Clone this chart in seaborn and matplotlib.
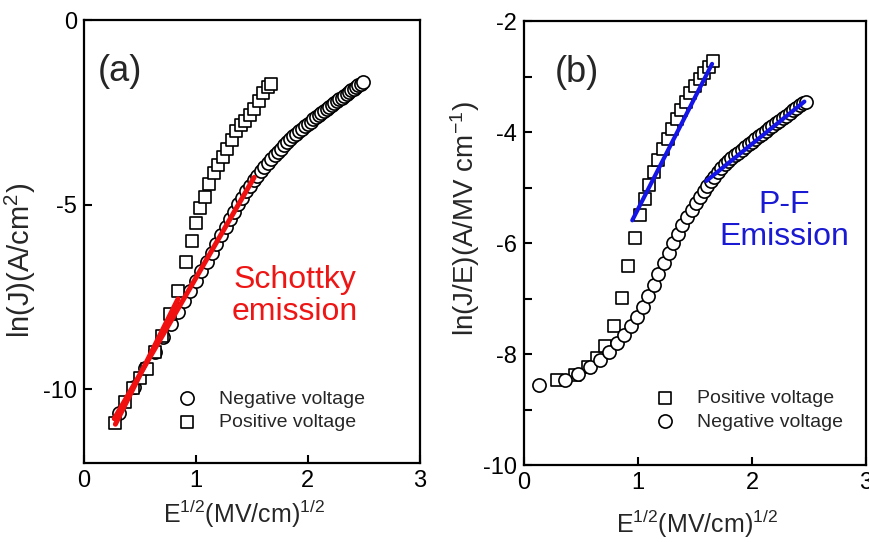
import numpy as np
import pandas as pd
import matplotlib
matplotlib.use('Agg')
import matplotlib.pyplot as plt
import seaborn as sns

# (a) Schottky plot: ln(J) vs E^1/2
a_neg_x = [0.316, 0.447, 0.548, 0.632, 0.707, 0.775, 0.837, 0.894, 0.949, 1.0,
           1.049, 1.095, 1.140, 1.183, 1.225, 1.265, 1.304, 1.342, 1.378, 1.414,
           1.449, 1.483, 1.517, 1.549, 1.581, 1.612, 1.643, 1.673, 1.703, 1.732,
           1.761, 1.789, 1.817, 1.844, 1.871, 1.897, 1.924, 1.949, 1.975, 2.0,
           2.025, 2.049, 2.074, 2.098, 2.121, 2.145, 2.168, 2.191, 2.214, 2.236,
           2.258, 2.280, 2.302, 2.324, 2.345, 2.366, 2.387, 2.408, 2.429, 2.449,
           2.470, 2.490]
a_neg_y = [-10.65, -9.95, -9.42, -8.98, -8.59, -8.23, -7.91, -7.61, -7.33, -7.06,
           -6.80, -6.55, -6.30, -6.06, -5.83, -5.61, -5.40, -5.19, -4.99, -4.81,
           -4.64, -4.49, -4.34, -4.21, -4.08, -3.97, -3.86, -3.76, -3.66, -3.57,
           -3.48, -3.39, -3.31, -3.23, -3.15, -3.08, -3.01, -2.94, -2.87, -2.81,
           -2.75, -2.69, -2.63, -2.57, -2.51, -2.46, -2.40, -2.35, -2.30, -2.25,
           -2.20, -2.15, -2.10, -2.05, -2.00, -1.95, -1.90, -1.86, -1.81, -1.77,
           -1.72, -1.68]
a_pos_x = [0.28, 0.37, 0.44, 0.50, 0.56, 0.63, 0.70, 0.77, 0.84, 0.91,
           0.96, 1.00, 1.04, 1.08, 1.12, 1.16, 1.20, 1.24, 1.28, 1.32,
           1.36, 1.40, 1.44, 1.48, 1.52, 1.56, 1.60, 1.64, 1.67]
a_pos_y = [-10.92, -10.35, -9.97, -9.70, -9.46, -9.00, -8.56, -7.97, -7.34, -6.55,
           -5.98, -5.49, -5.10, -4.80, -4.45, -4.15, -3.92, -3.70, -3.50, -3.25,
           -3.00, -2.85, -2.72, -2.58, -2.40, -2.20, -1.97, -1.82, -1.72]
a_fit_neg_x = [0.27, 1.52]
a_fit_neg_y = [-10.8, -4.26]
a_fit_pos_x = [0.28, 0.84]
a_fit_pos_y = [-10.95, -7.55]

# (b) Poole-Frenkel plot: ln(J/E) vs E^1/2
b_neg_x = [0.13, 0.36, 0.47, 0.58, 0.67, 0.75, 0.82, 0.88, 0.94, 0.99,
           1.04, 1.09, 1.14, 1.18, 1.23, 1.27, 1.31, 1.35, 1.39, 1.43,
           1.47, 1.51, 1.54, 1.58, 1.61, 1.64, 1.67, 1.70, 1.73, 1.76,
           1.79, 1.82, 1.85, 1.88, 1.91, 1.94, 1.97, 2.00, 2.03, 2.06,
           2.09, 2.12, 2.15, 2.18, 2.21, 2.24, 2.27, 2.30, 2.33, 2.36,
           2.39, 2.42, 2.45, 2.47]
b_neg_y = [-8.55, -8.47, -8.36, -8.24, -8.10, -7.96, -7.80, -7.65, -7.50, -7.33,
           -7.15, -6.96, -6.76, -6.56, -6.36, -6.17, -6.00, -5.83, -5.68, -5.53,
           -5.40, -5.28, -5.17, -5.06, -4.97, -4.89, -4.80, -4.72, -4.65, -4.58,
           -4.52, -4.47, -4.42, -4.37, -4.32, -4.27, -4.22, -4.17, -4.12, -4.07,
           -4.03, -3.98, -3.93, -3.89, -3.84, -3.80, -3.75, -3.71, -3.66, -3.61,
           -3.57, -3.52, -3.48, -3.45]
b_pos_x = [0.29, 0.45, 0.56, 0.64, 0.71, 0.79, 0.86, 0.91, 0.97, 1.02,
           1.06, 1.10, 1.14, 1.18, 1.22, 1.26, 1.30, 1.34, 1.38, 1.42,
           1.46, 1.50, 1.54, 1.58, 1.62, 1.66]
b_pos_y = [-8.47, -8.38, -8.23, -8.07, -7.85, -7.50, -6.99, -6.42, -5.90, -5.50,
           -5.20, -4.95, -4.72, -4.50, -4.30, -4.12, -3.94, -3.77, -3.60, -3.45,
           -3.30, -3.17, -3.05, -2.93, -2.82, -2.72]
b_fit_pos_x = [0.95, 1.65]
b_fit_pos_y = [-5.59, -2.77]
b_fit_neg_x = [1.60, 2.46]
b_fit_neg_y = [-4.88, -3.45]

sns.set_theme(style='ticks')
plt.rcParams['font.family'] = ['Liberation Sans', 'DejaVu Sans']
plt.rcParams['mathtext.fontset'] = 'custom'
plt.rcParams['mathtext.rm'] = 'Liberation Sans'
plt.rcParams['mathtext.it'] = 'Liberation Sans:italic'
plt.rcParams['axes.unicode_minus'] = False

fig = plt.figure(figsize=(8.7, 5.42), dpi=100)
ax1 = fig.add_axes([0.0966, 0.1458, 0.386, 0.817])
ax2 = fig.add_axes([0.6023, 0.142, 0.393, 0.819])

mk = dict(facecolor='white', edgecolor='black', linewidth=1.2)
leg_kw = dict(loc='center left', frameon=False, fontsize=14, borderpad=0, borderaxespad=0,
              handlelength=1.0, handletextpad=1.15, labelspacing=0.3)

# panel a
sns.scatterplot(x=a_neg_x, y=a_neg_y, marker='o', s=90, label='Negative voltage', ax=ax1, zorder=3, **mk)
sns.scatterplot(x=a_pos_x, y=a_pos_y, marker='s', s=76, label='Positive voltage', ax=ax1, zorder=3, **mk)
sns.lineplot(x=a_fit_neg_x, y=a_fit_neg_y, color='#f01010', lw=3.6, ax=ax1, zorder=4)
sns.lineplot(x=a_fit_pos_x, y=a_fit_pos_y, color='#f01010', lw=3.6, ax=ax1, zorder=4)
ax1.set_xlim(0, 3)
ax1.set_ylim(-12, 0)
ax1.set_xticks([0, 1, 2, 3])
ax1.set_yticks([-10, -5, 0])
ax1.set_xlabel(r'E$^{1/2}$(MV/cm)$^{1/2}$', fontsize=18)
ax1.set_ylabel(r'ln(J)(A/cm$^2$)', fontsize=21)
ax1.text(0.042, 0.883, '(a)', transform=ax1.transAxes, fontsize=26, ha='left', va='center')
ax1.text(0.628, 0.377, 'Schottky\nemission', transform=ax1.transAxes, fontsize=23,
         color='#ee1515', ha='center', va='center', linespacing=1.1)
ax1.legend(bbox_to_anchor=(0.278, 0.1185), **leg_kw)

# panel b
sns.scatterplot(x=b_pos_x, y=b_pos_y, marker='s', s=76, label='Positive voltage', ax=ax2, zorder=3, **mk)
sns.scatterplot(x=b_neg_x, y=b_neg_y, marker='o', s=90, label='Negative voltage', ax=ax2, zorder=3, **mk)
sns.lineplot(x=b_fit_pos_x, y=b_fit_pos_y, color='#1414e6', lw=3.0, ax=ax2, zorder=4)
sns.lineplot(x=b_fit_neg_x, y=b_fit_neg_y, color='#1414e6', lw=3.0, ax=ax2, zorder=4)
ax2.set_xlim(0, 3)
ax2.set_ylim(-10, -2)
ax2.set_xticks([0, 1, 2, 3])
ax2.set_yticks([-10, -8, -6, -4, -2])
ax2.set_yticks([-9, -7, -5, -3], minor=True)
ax2.set_xlabel(r'E$^{1/2}$(MV/cm)$^{1/2}$', fontsize=18)
ax2.set_ylabel(r'ln(J/E)(A/MV cm$^{-1}$)', fontsize=20)
ax2.text(0.09, 0.885, '(b)', transform=ax2.transAxes, fontsize=26, ha='left', va='center')
ax2.text(0.76, 0.55, 'P-F\nEmission', transform=ax2.transAxes, fontsize=23,
         color='#1a1ad2', ha='center', va='center', linespacing=1.1)
ax2.legend(bbox_to_anchor=(0.384, 0.124), **leg_kw)

for ax in (ax1, ax2):
    for sp in ax.spines.values():
        sp.set_visible(True)
        sp.set_linewidth(1.6)
        sp.set_color('black')
    ax.tick_params(which='both', direction='in', length=6, width=1.5, labelsize=17,
                   colors='black', pad=5)
    ax.grid(False)

ax1.yaxis.set_label_coords(-0.137, 0.458)
ax2.yaxis.set_label_coords(-0.123, 0.556)
ax1.xaxis.set_label_coords(0.476, -0.079)
ax2.xaxis.set_label_coords(0.506, -0.097)

fig.savefig('out.png', dpi=100)
